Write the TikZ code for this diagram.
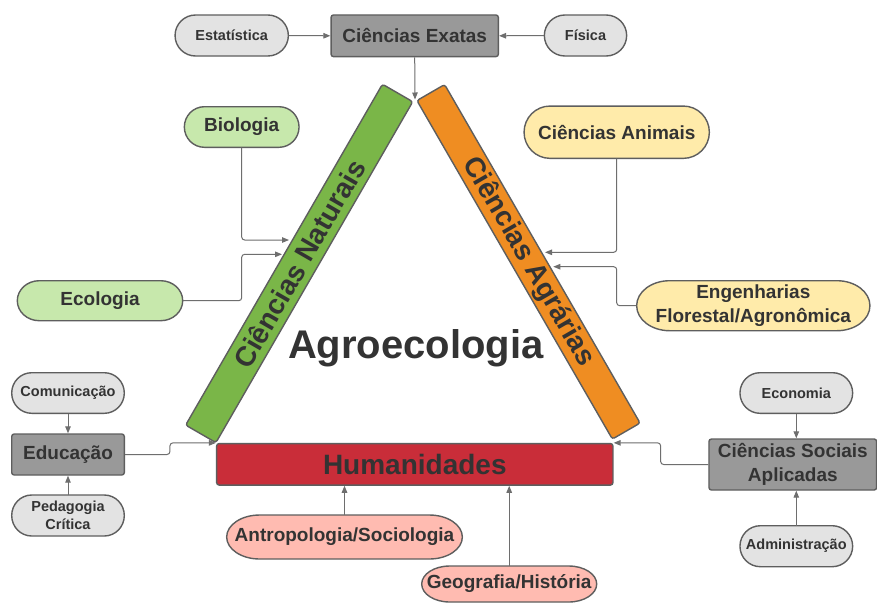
\documentclass[tikz,border=0pt]{standalone}
\usepackage{fontspec}
\setmainfont{Liberation Sans}
\usetikzlibrary{arrows.meta}
\definecolor{txt}{HTML}{333333}
\definecolor{bordc}{HTML}{5E5E5E}
\definecolor{connc}{HTML}{6E6E6E}
\definecolor{darkgray}{HTML}{999999}
\definecolor{lightgray}{HTML}{E3E3E3}
\definecolor{lightgreen}{HTML}{C7E8AC}
\definecolor{lightyellow}{HTML}{FFEBAA}
\definecolor{lightpink}{HTML}{FFBBB1}
\definecolor{natgreen}{HTML}{7AB648}
\definecolor{agrorange}{HTML}{EF8D22}
\definecolor{humred}{HTML}{C92D39}
\tikzset{
  border/.style={draw=bordc, line width=1.4pt},
  lbl/.style={inner sep=0pt, align=center, text=txt},
  smalltxt/.style={font=\bfseries\fontsize{14.5}{17.7}\selectfont},
  midtxt/.style={font=\bfseries\fontsize{19}{23.5}\selectfont},
  boxnode/.style={border, rounded corners=2.5pt, lbl, midtxt, fill=darkgray},
  barnode/.style={border, rounded corners=2.5pt, lbl, font=\bfseries\fontsize{28}{30}\selectfont},
  conn/.style={draw=connc, line width=1pt, rounded corners=3pt, -{Triangle[length=7pt,width=5.5pt]}},
}
\newcommand\pillnode[9]{%
  \pgfmathsetmacro\pilL{#2-#4/2}%
  \pgfmathsetmacro\pilR{#2+#4/2}%
  \pgfmathsetmacro\pilT{#3-#5/2}%
  \pgfmathsetmacro\pilB{#3+#5/2}%
  \pgfmathsetmacro\pilLi{\pilL+#6}%
  \pgfmathsetmacro\pilRi{\pilR-#6}%
  \pgfmathsetmacro\pilkx{0.5523*#6}%
  \pgfmathsetmacro\pilky{0.5523*#5/2}%
  \path[border,fill=#7] (\pilLi,\pilT) -- (\pilRi,\pilT)
    .. controls ({\pilRi+\pilkx},\pilT) and (\pilR,{#3-\pilky}) .. (\pilR,#3)
    .. controls (\pilR,{#3+\pilky}) and ({\pilRi+\pilkx},\pilB) .. (\pilRi,\pilB)
    -- (\pilLi,\pilB)
    .. controls ({\pilLi-\pilkx},\pilB) and (\pilL,{#3+\pilky}) .. (\pilL,#3)
    .. controls (\pilL,{#3-\pilky}) and ({\pilLi-\pilkx},\pilT) .. (\pilLi,\pilT) -- cycle;
  \node[lbl,#8,minimum width=#4pt,minimum height=#5pt] (#1) at (#2,#3) {#9};
}
\begin{document}
\begin{tikzpicture}[x=1pt,y=-1pt]
\useasboundingbox (0,0) rectangle (877,603);
\fill[white] (0,0) rectangle (877,603);

% bars
\node[barnode, fill=natgreen, minimum width=393.6pt, minimum height=35pt, rotate=60] (nat) at (299.2,263.4) {Ciências Naturais};
\node[barnode, fill=agrorange, minimum width=390.9pt, minimum height=32pt, rotate=-60] (agr) at (528.5,261.8) {Ciências Agrárias};
\node[barnode, fill=humred, minimum width=396.3pt, minimum height=41.5pt] (hum) at (414.8,464.3) {Humanidades};

\node[lbl, font=\bfseries\fontsize{40}{44}\selectfont, anchor=base] (agro) at (415.8,358.3) {Agroecologia};

% top
\node[boxnode, minimum width=167.3pt, minimum height=41.7pt] (exa) at (414.7,35.8) {Ciências Exatas};
\pillnode{est}{231.7}{35.5}{113.3}{41}{20.5}{lightgray}{smalltxt}{Estatística}
\pillnode{fis}{585.5}{35.5}{82.3}{41}{20.5}{lightgray}{smalltxt}{Física}

% natural sciences
\pillnode{bio}{241.7}{127}{114.7}{40.6}{20}{lightgreen}{midtxt}{Biologia}
\pillnode{ecol}{100}{300.7}{165.4}{40}{22}{lightgreen}{midtxt}{Ecologia}

% agrarian sciences
\pillnode{ani}{616.7}{132.2}{185.3}{52.3}{26}{lightyellow}{midtxt}{Ciências Animais}
\pillnode{eng}{753.3}{305.7}{233.3}{50}{33}{lightyellow}{midtxt}{Engenharias\\Florestal/Agronômica}

% education
\pillnode{com}{68}{393}{112.6}{40.6}{20}{lightgray}{smalltxt}{Comunicação}
\node[boxnode, minimum width=112.6pt, minimum height=41pt] (edu) at (68,454.5) {Educação};
\pillnode{ped}{68}{515.5}{112.6}{41}{20}{lightgray}{smalltxt}{Pedagogia\\Crítica}

% applied social sciences
\pillnode{econ}{796.3}{393}{112.7}{40.6}{20}{lightgray}{smalltxt}{Economia}
\node[boxnode, minimum width=167.7pt, minimum height=51pt] (csa) at (792.8,464.5) {Ciências Sociais\\Aplicadas};
\pillnode{adm}{796.3}{546.2}{112.7}{41}{20.5}{lightgray}{smalltxt}{Administração}

% humanities
\pillnode{ant}{344.5}{537}{235.7}{44}{33}{lightpink}{midtxt}{Antropologia/Sociologia}
\pillnode{geo}{509.2}{584}{175}{36}{28}{lightpink}{midtxt}{Geografia/História}

% connector end points on the bars
\coordinate (apex) at (415,99.5);
\coordinate (natA) at (289,240);
\coordinate (natB) at (282,254.3);
\coordinate (agrA) at (545,252.3);
\coordinate (agrB) at (553.3,266.7);

% connectors
\draw[conn] (est.east) -- (exa.west);
\draw[conn] (fis.west) -- (exa.east);
\draw[conn] (exa.south) -- (apex);
\draw[conn] (bio.south) |- (natA);
\draw[conn] (ecol.east) -| (bio.south |- natB) -- (natB);
\draw[conn] (ani.south) |- (agrA);
\draw[conn] (eng.west) -| (ani.south |- agrB) -- (agrB);
\draw[conn] (com.south) -- (edu.north);
\draw[conn] (ped.north) -- (edu.south);
\draw[conn] (edu.east) -| ([xshift=-46pt]hum.north west) -- (hum.north west);
\draw[conn] (econ.south) -- (econ.south |- csa.north);
\draw[conn] (adm.north) -- (adm.north |- csa.south);
\draw[conn] (csa.west) -| ([xshift=47pt]hum.north east) -- (hum.north east);
\draw[conn] (ant.north) -- (ant.north |- hum.south);
\draw[conn] (geo.north) -- (geo.north |- hum.south);
\end{tikzpicture}
\end{document}
